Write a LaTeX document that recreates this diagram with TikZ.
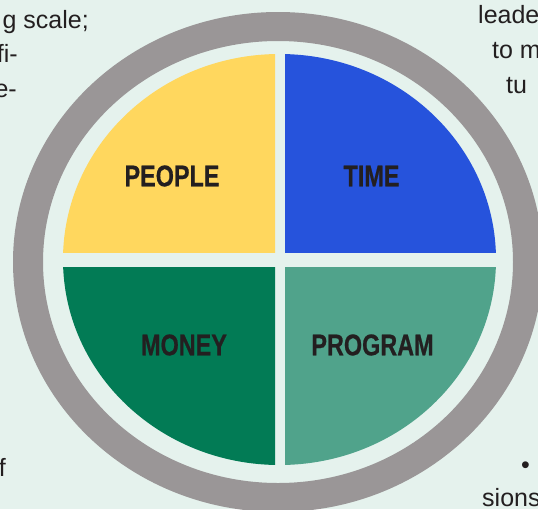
\documentclass[tikz,border=0pt]{standalone}
\usepackage{fontspec}
\setmainfont{Liberation Sans}
\newfontfamily\quadfont[FakeStretch=0.78,FakeBold=0.6]{Liberation Sans Bold}
\definecolor{mint}{HTML}{E5F2ED}
\definecolor{ringgray}{HTML}{9A9697}
\definecolor{peoplecol}{HTML}{FFD75E}
\definecolor{timecol}{HTML}{2653DC}
\definecolor{moneycol}{HTML}{027B55}
\definecolor{programcol}{HTML}{50A38B}
\definecolor{ink}{HTML}{231F20}
\begin{document}
\begin{tikzpicture}[x=1pt,y=-1pt,
  quad/.style={font=\quadfont\fontsize{30}{30}\selectfont,text=ink,inner sep=0},
  body/.style={font=\fontsize{25}{30}\selectfont,text=ink,inner sep=0}]
\def\disc{(279.5,259.5) ellipse [x radius=216.5, y radius=205.5]}
\useasboundingbox (0,0) rectangle (538,509);
\clip (0,0) rectangle (538,509);
\fill[mint] (0,0) rectangle (538,509);
% outer ring
\fill[ringgray,even odd rule]
  (278,262) ellipse [x radius=265, y radius=250]
  (278,262) ellipse [x radius=235, y radius=221];
% four quarters
\begin{scope}
  \clip (0,0) rectangle (275,252);
  \fill[peoplecol] \disc;
\end{scope}
\begin{scope}
  \clip (285,0) rectangle (538,252);
  \fill[timecol] \disc;
\end{scope}
\begin{scope}
  \clip (0,267) rectangle (275,509);
  \fill[moneycol] \disc;
\end{scope}
\begin{scope}
  \clip (285,267) rectangle (538,509);
  \fill[programcol] \disc;
\end{scope}
\node[quad] (people)  at (172,176)   {PEOPLE};
\node[quad] (time)    at (371.5,176) {TIME};
\node[quad] (money)   at (184,345)   {MONEY};
\node[quad] (program) at (372.5,345) {PROGRAM};
% running text round the figure
\node[body,anchor=base east] (left1) at (89,28)  {g scale;};
\node[body,anchor=base east] (left2) at (18,62)  {fi-};
\node[body,anchor=base east] (left3) at (17,97)  {e-};
\node[body,anchor=base east] (left4) at (6,476)  {f};
\node[body,anchor=base west] (right1) at (478,23) {leade};
\node[body,anchor=base west] (right2) at (492,58) {to m};
\node[body,anchor=base west] (right3) at (506,93) {tu};
\node[body,anchor=base west] (bullet) at (521,473) {•};
\node[body,anchor=base west] (right4) at (482,506) {sions};
\end{tikzpicture}
\end{document}
